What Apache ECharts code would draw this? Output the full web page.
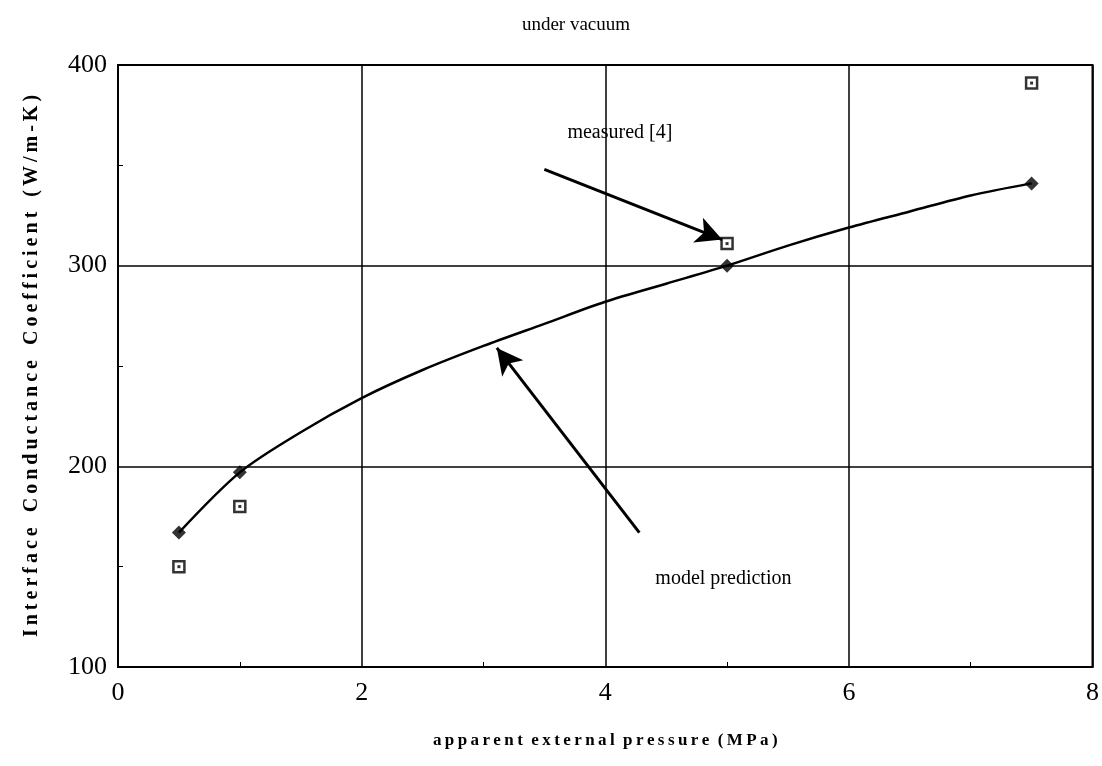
<!DOCTYPE html>
<html>
<head>
<meta charset="utf-8">
<script src="https://cdn.jsdelivr.net/npm/echarts@6/dist/echarts.min.js"></script>
<style>
html,body{margin:0;padding:0;background:#fff;}
#c{width:1102px;height:766px;}
</style>
</head>
<body>
<div id="c"></div>
<script>
// Model prediction points (filled diamonds)
const modelX = [0.5, 1, 5, 7.5];
const modelY = [167, 197, 300, 341];
// Measured points [4] (open squares)
const measX = [0.5, 1, 5, 7.5];
const measY = [150, 180, 311, 391];
// Smooth model curve
const curveX = [0.5, 1, 1.5, 2, 2.5, 3, 3.5, 4, 4.5, 5, 5.5, 6, 6.5, 7, 7.5];
const curveY = [167, 197, 217, 234, 248, 260, 271, 282, 291, 300, 310, 319, 327, 335, 341];
// Annotation arrows (data coords): [fromX, fromY, toX, toY]
const arrowMeasured = [3.5, 348, 4.96, 313];
const arrowModel = [4.28, 167, 3.11, 259];
// Annotation labels: [x, y, text]
const labelMeasured = [4.12, 366, 'measured [4]'];
const labelModel = [4.97, 144, 'model prediction'];
const xTicks = [0, 2, 4, 6, 8];
const yTicks = [100, 200, 300, 400];
const xTitleWords = ['apparent', 'external', 'pressure', '(MPa)'];
const yTitleWords = ['Interface', 'Conductance', 'Coefficient', '(W/m-K)'];

const FONT = 'Liberation Serif';
const pairs = (xs, ys) => xs.map((x, i) => [x, ys[i]]);
const THIN = '\u2009';
const spaced = (words, gap) => words.map(w => w.split('').join(THIN)).join(gap);

const chart = echarts.init(document.getElementById('c'), null, {renderer: 'canvas'});
const option = {
  animation: false,
  backgroundColor: '#fff',
  title: {
    text: 'under vacuum',
    left: 571, top: 11, textAlign: 'center',
    textStyle: {fontFamily: FONT, fontSize: 19, fontWeight: 'normal', color: '#000'}
  },
  grid: {left: 118, right: 8, top: 65, bottom: 99, show: true, borderColor: '#000', borderWidth: 2, backgroundColor: 'transparent'},
  xAxis: {
    type: 'value', min: xTicks[0], max: xTicks[xTicks.length - 1], interval: 2,
    name: spaced(xTitleWords, '\u00a0\u00a0'), nameLocation: 'middle', nameGap: 65,
    nameTextStyle: {fontFamily: FONT, fontSize: 17, fontWeight: 'bold', color: '#000'},
    axisLine: {show: true, lineStyle: {color: '#000', width: 2}},
    axisTick: {show: true, inside: true, length: 0},
    minorTick: {show: true, splitNumber: 2, length: 5, lineStyle: {color: '#000', width: 1}},
    axisLabel: {fontFamily: FONT, fontSize: 26, color: '#000', margin: 13},
    splitLine: {show: true, lineStyle: {color: '#000', width: 1.5}}
  },
  yAxis: {
    type: 'value', min: yTicks[0], max: yTicks[yTicks.length - 1], interval: 100,
    name: spaced(yTitleWords, '\u00a0\u00a0\u00a0'),
    nameLocation: 'middle', nameGap: 76, nameRotate: 90,
    nameTextStyle: {fontFamily: FONT, fontSize: 20, fontWeight: 'bold', color: '#000'},
    axisLine: {show: true, lineStyle: {color: '#000', width: 2}},
    axisTick: {show: true, inside: true, length: 0},
    minorTick: {show: true, splitNumber: 2, length: 5, lineStyle: {color: '#000', width: 1}},
    axisLabel: {fontFamily: FONT, fontSize: 26, color: '#000', margin: 11},
    splitLine: {show: true, lineStyle: {color: '#000', width: 1.5}}
  },
  series: [
    {
      type: 'line', data: pairs(curveX, curveY), smooth: 0.3, showSymbol: false,
      lineStyle: {color: '#000', width: 2.5}, z: 3,
      markLine: {
        silent: true, symbol: ['none', 'arrow'], symbolSize: [20, 26],
        lineStyle: {color: '#000', width: 3, type: 'solid'},
        label: {show: false},
        data: [
          [{coord: [arrowMeasured[0], arrowMeasured[1]]}, {coord: [arrowMeasured[2], arrowMeasured[3]]}],
          [{coord: [arrowModel[0], arrowModel[1]]}, {coord: [arrowModel[2], arrowModel[3]]}]
        ]
      },
      markPoint: {
        silent: true, symbol: 'circle', symbolSize: 0,
        label: {show: true, position: 'inside', fontFamily: FONT, fontSize: 20, color: '#000', formatter: p => p.name},
        data: [
          {name: labelMeasured[2], coord: [labelMeasured[0], labelMeasured[1]]},
          {name: labelModel[2], coord: [labelModel[0], labelModel[1]]}
        ]
      }
    },
    {
      type: 'scatter', data: pairs(modelX, modelY), symbol: 'diamond', symbolSize: [14, 14],
      itemStyle: {color: '#000'}, z: 4
    },
    {
      type: 'scatter', data: pairs(measX, measY), symbol: 'rect', symbolSize: 11,
      itemStyle: {color: '#fff', borderColor: '#000', borderWidth: 2.5}, z: 4
    },
    {
      type: 'scatter', data: pairs(measX, measY), symbol: 'rect', symbolSize: 3,
      itemStyle: {color: '#000'}, z: 5
    }
  ]
};
chart.setOption(option);
</script>
</body>
</html>
